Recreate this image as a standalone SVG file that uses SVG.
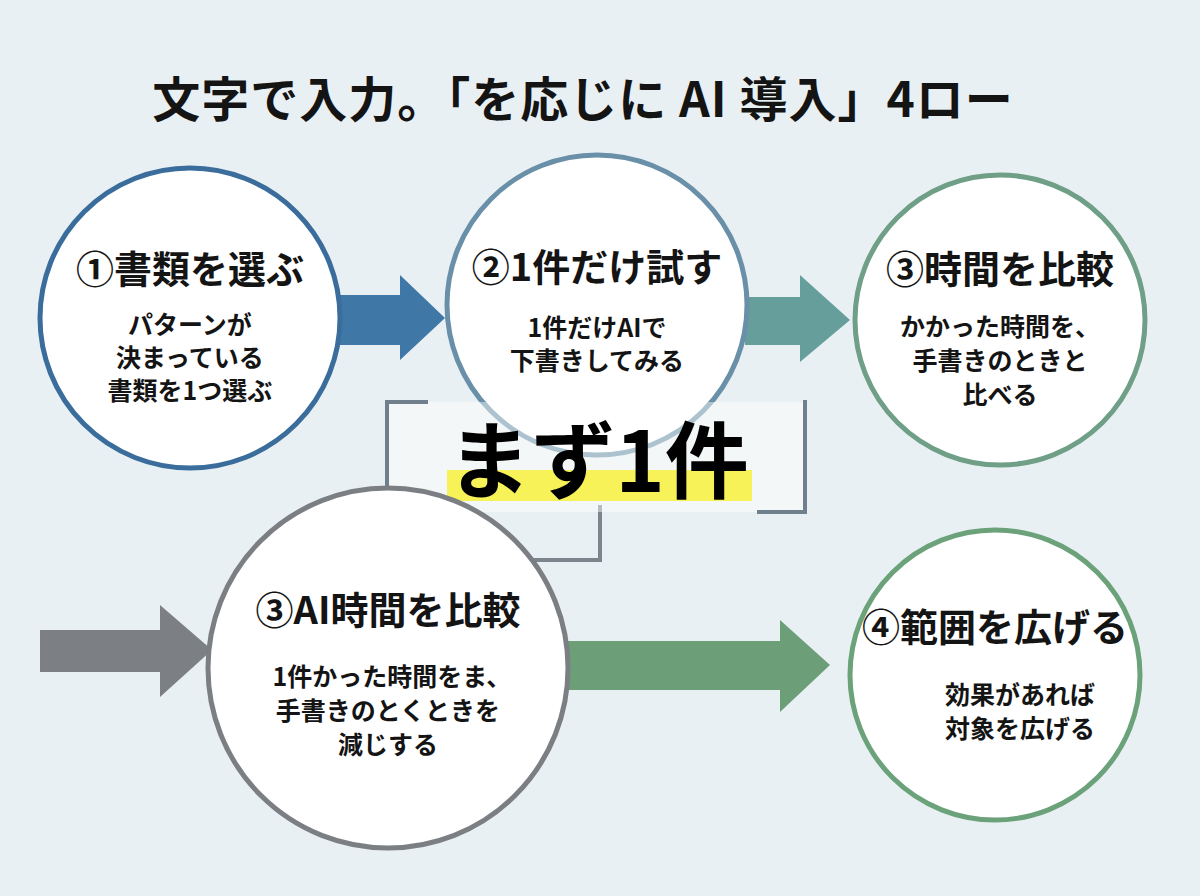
<svg xmlns="http://www.w3.org/2000/svg" width="1200" height="896" viewBox="0 0 1200 896">
<style>
text{font-family:"Noto Sans CJK JP","Liberation Sans",sans-serif;font-weight:700;fill:#141414;text-anchor:middle}
.t{font-size:38px}.b{font-size:25px}
circle{fill:#fff;stroke-width:5}
</style>
<rect width="1200" height="896" fill="#e9f0f3"/>
<text x="583" y="117" style="font-size:48px;letter-spacing:1px">文字で入力。「を応じに AI 導入」4ロー</text>
<g id="connectors">
<polygon points="300,295 400,295 400,275 445,318 400,360 400,345 300,345" fill="#3f78a6"/>
<polygon points="745,297 800,297 800,275 850,320 800,362 800,345 745,345" fill="#669e9c"/>
<polygon points="40,630 160,630 160,605 212,650 160,697 160,672 40,672" fill="#7c8084"/>
<polygon points="560,641 780,641 780,620 830,665 780,712 780,690 560,690" fill="#6c9f78"/>
<polyline points="600,505 600,560 460,560" fill="none" stroke="#7d858c" stroke-width="4"/>
</g>
<g id="n1"><circle cx="190" cy="318" r="150" stroke="#3a6d9c"/>
<text class="t" x="190" y="283">①書類を選ぶ</text>
<text class="b" x="190" y="334">パターンが</text><text class="b" x="190" y="367">決まっている</text><text class="b" x="190" y="400">書類を1つ選ぶ</text></g>
<g id="n2"><circle cx="597" cy="305" r="150" stroke="#6990a8"/>
<text class="t" x="597" y="281">②1件だけ試す</text>
<text class="b" x="597" y="337">1件だけAIで</text><text class="b" x="597" y="370">下書きしてみる</text></g>
<g id="n3"><circle cx="1000" cy="320" r="145" stroke="#6f9f86"/>
<text class="t" x="1000" y="283">③時間を比較</text>
<text class="b" x="1000" y="336">かかった時間を、</text><text class="b" x="1000" y="370">手書きのときと</text><text class="b" x="1000" y="404">比べる</text></g>
<g id="focus">
<rect x="387" y="402" width="418" height="110" fill="#fff" fill-opacity="0.45"/>
<rect x="447" y="470" width="305" height="31" fill="#f7f257"/>
<text x="598" y="492" style="font-size:84px;fill:#000">まず1件</text>
<polyline points="428,402 387,402 387,512" fill="none" stroke="#6f808c" stroke-width="4"/>
<polyline points="805,400 805,512 757,512" fill="none" stroke="#6f808c" stroke-width="4"/>
</g>
<g id="n4"><circle cx="388" cy="668" r="180" stroke="#7b7f83"/>
<text class="t" x="388" y="624">③AI時間を比較</text>
<text class="b" x="392" y="686">1件かった時間をま、</text><text class="b" x="388" y="720">手書きのとくときを</text><text class="b" x="388" y="754">減じする</text></g>
<g id="n5"><circle cx="995" cy="675" r="145" stroke="#6ba27a"/>
<text class="t" x="995" y="641">④範囲を広げる</text>
<text class="b" x="1020" y="704">効果があれば</text><text class="b" x="1020" y="738">対象を広げる</text></g>
</svg>
